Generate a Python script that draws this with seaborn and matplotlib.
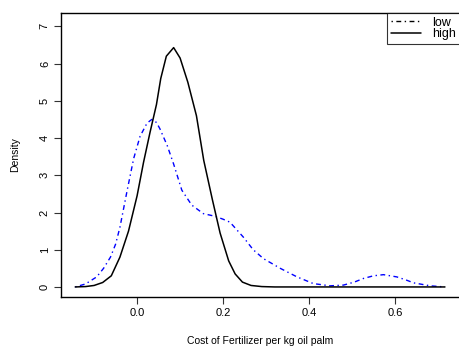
import pandas as pd
import seaborn as sns
import matplotlib.pyplot as plt

# density estimates
high_x = [-0.144, -0.12, -0.10, -0.08, -0.06, -0.04, -0.02, 0.00, 0.015, 0.03,
          0.045, 0.055, 0.068, 0.085, 0.100, 0.118, 0.138, 0.155, 0.175, 0.193,
          0.213, 0.228, 0.245, 0.265, 0.29, 0.32, 0.716]
high_y = [0.0, 0.01, 0.04, 0.12, 0.30, 0.80, 1.50, 2.45, 3.35, 4.15,
          4.90, 5.60, 6.20, 6.43, 6.15, 5.50, 4.60, 3.40, 2.35, 1.45,
          0.70, 0.35, 0.13, 0.04, 0.01, 0.0, 0.0]

low_x = [-0.144, -0.12, -0.094, -0.078, -0.062, -0.05, -0.04, -0.023, -0.008, 0.007,
         0.023, 0.034, 0.045, 0.053, 0.07, 0.085, 0.104, 0.127, 0.154, 0.181,
         0.20, 0.216, 0.247, 0.27, 0.294, 0.333, 0.372, 0.41, 0.449, 0.48,
         0.505, 0.527, 0.55, 0.573, 0.604, 0.625, 0.643, 0.682, 0.716]
low_y = [0.0, 0.08, 0.27, 0.50, 0.80, 1.15, 1.60, 2.60, 3.45, 4.05,
         4.40, 4.50, 4.42, 4.25, 3.80, 3.30, 2.60, 2.20, 1.97, 1.90,
         1.82, 1.74, 1.34, 1.00, 0.76, 0.50, 0.27, 0.09, 0.03, 0.05,
         0.13, 0.23, 0.30, 0.33, 0.27, 0.19, 0.11, 0.03, 0.0]

x_ticks = [0.0, 0.2, 0.4, 0.6]
y_ticks = [0, 1, 2, 3, 4, 5, 6, 7]

sns.set_theme(style="white")
plt.rcParams["font.family"] = ["Liberation Sans", "DejaVu Sans"]
plt.rcParams["text.color"] = "black"
plt.rcParams["axes.labelcolor"] = "black"
plt.rcParams["xtick.color"] = "black"
plt.rcParams["ytick.color"] = "black"

fig = plt.figure(figsize=(4.59, 3.54), dpi=100)
ax = fig.add_axes([61 / 459, 57 / 354, 399 / 459, 284 / 354])

low = pd.DataFrame({"x": low_x, "y": low_y})
high = pd.DataFrame({"x": high_x, "y": high_y})

sns.lineplot(data=low, x="x", y="y", ax=ax, color="blue", lw=1, sort=False,
             estimator=None, dashes=False, label="low")
ax.lines[-1].set_dashes((1, 2.5, 3.5, 2.5))
sns.lineplot(data=high, x="x", y="y", ax=ax, color="black", lw=1.1, sort=False,
             estimator=None, label="high")

ax.set_xlim(-0.177, 0.751)
ax.set_ylim(-0.27, 7.36)
ax.set_xticks(x_ticks)
ax.set_xticklabels(["0.0", "0.2", "0.4", "0.6"])
ax.set_yticks(y_ticks)
ax.set_yticklabels([str(v) for v in y_ticks], rotation=90, va="center")
ax.tick_params(direction="out", length=5, width=0.8, color="#333333",
               labelsize=8, pad=3, bottom=True, left=True)
for s in ax.spines.values():
    s.set_color("black")
    s.set_linewidth(1)

ax.set_xlabel("Cost of Fertilizer per kg oil palm", fontsize=7.5, labelpad=13)
ax.set_ylabel("Density", fontsize=7.5, labelpad=14)

leg = ax.legend(loc="upper right", bbox_to_anchor=(1.0, 1.0), borderaxespad=0,
                fontsize=9, frameon=True, fancybox=False, handlelength=2.4,
                handletextpad=0.9, labelspacing=-0.05, borderpad=0.3)
leg.get_frame().set_edgecolor("black")
leg.get_frame().set_linewidth(0.8)
leg.get_lines()[0].set_color("black")

fig.savefig("out.png", dpi=100)
